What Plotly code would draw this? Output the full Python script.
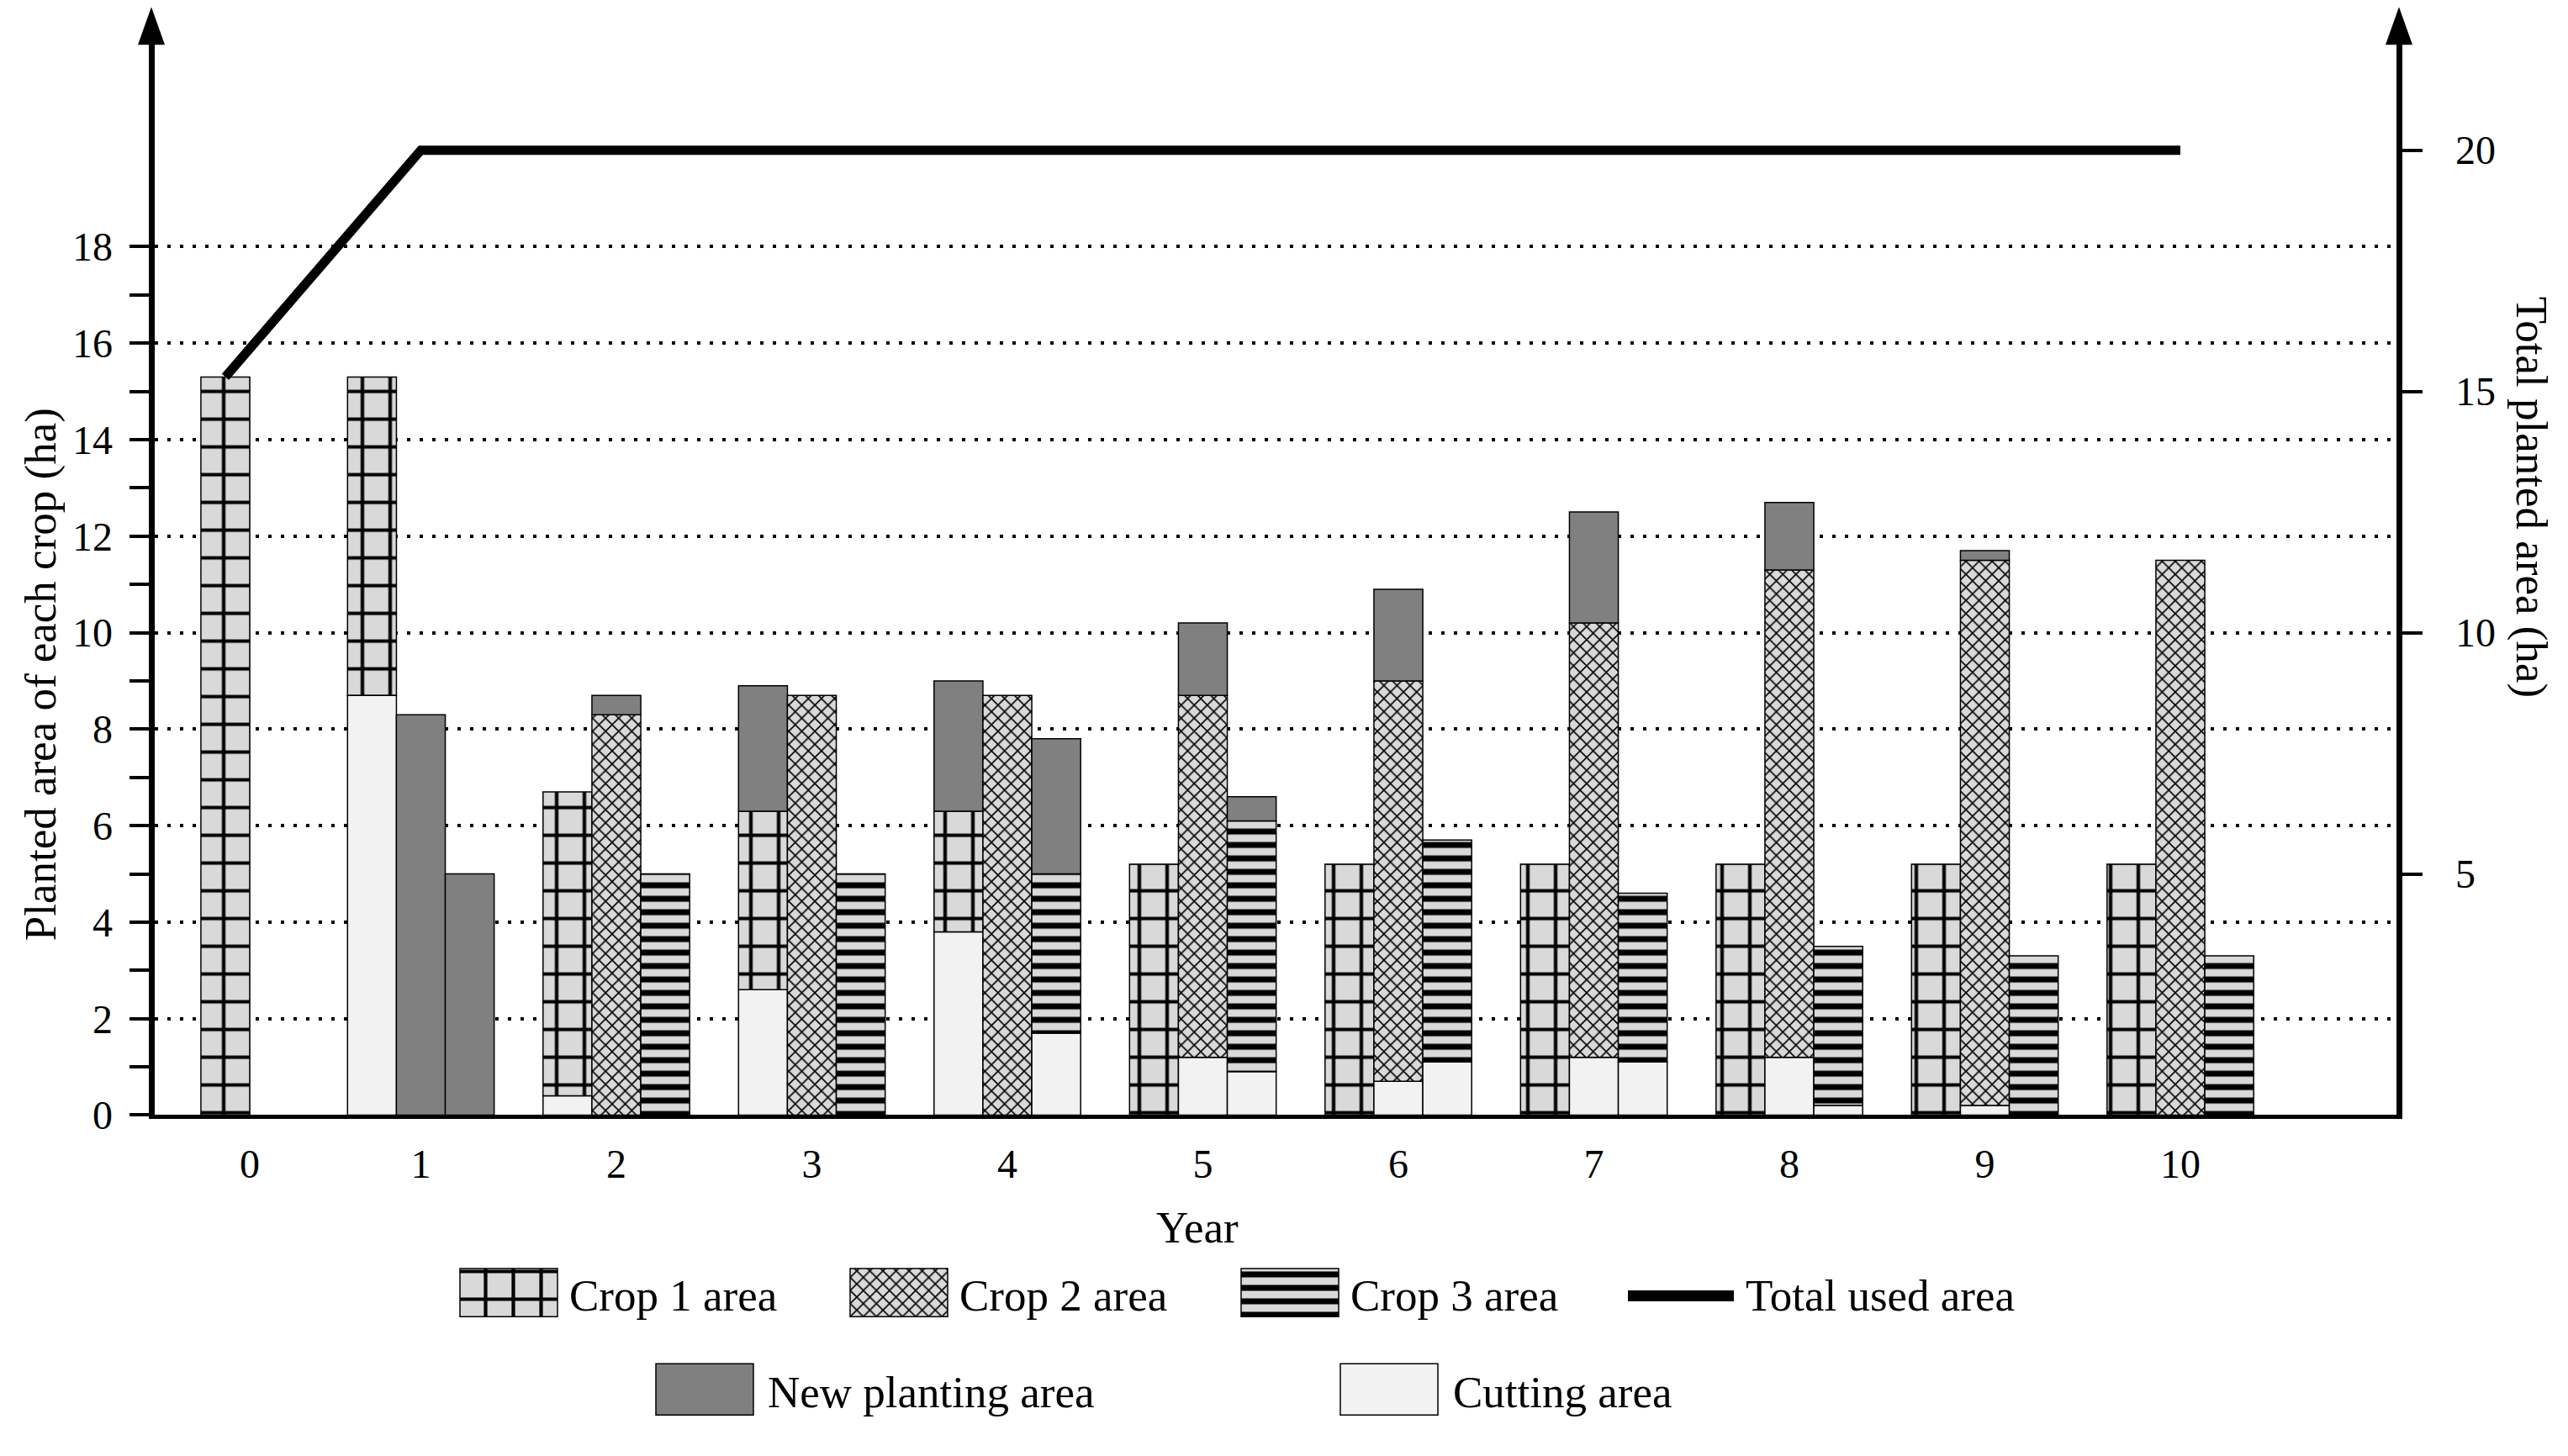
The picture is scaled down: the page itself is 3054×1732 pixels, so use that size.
import plotly.graph_objects as go

# ---------------- data ----------------
years = [0, 1, 2, 3, 4, 5, 6, 7, 8, 9, 10]
year_labels = [str(y) for y in years]

# slot 1 : crop 1 bars (segments stacked bottom -> top: cutting, crop area, new planting)
cut_1 = [0, 8.7, 0.4, 2.6, 3.8, 0, 0, 0, 0, 0, 0]
crop_1 = [15.3, 6.6, 6.3, 3.7, 2.5, 5.2, 5.2, 5.2, 5.2, 5.2, 5.2]
new_1 = [0, 0, 0, 2.6, 2.7, 0, 0, 0, 0, 0, 0]
# slot 2 : crop 2 bars
cut_2 = [0, 0, 0, 0, 0, 1.2, 0.7, 1.2, 1.2, 0.2, 0]
crop_2 = [0, 0, 8.3, 8.7, 8.7, 7.5, 8.3, 9.0, 10.1, 11.3, 11.5]
new_2 = [0, 8.3, 0.4, 0, 0, 1.5, 1.9, 2.3, 1.4, 0.2, 0]
# slot 3 : crop 3 bars
cut_3 = [0, 0, 0, 0, 1.7, 0.9, 1.1, 1.1, 0.2, 0, 0]
crop_3 = [0, 0, 5.0, 5.0, 3.3, 5.2, 4.6, 3.5, 3.3, 3.3, 3.3]
new_3 = [0, 5.0, 0, 0, 2.8, 0.5, 0, 0, 0, 0, 0]

total_used_area = [15.3, 20, 20, 20, 20, 20, 20, 20, 20, 20, 20]

left_tick_vals = [0, 2, 4, 6, 8, 10, 12, 14, 16, 18]
left_minor_vals = [1, 3, 5, 7, 9, 11, 13, 15, 17]
right_tick_vals = [5, 10, 15, 20]

y_title_left = "Planted area of each crop (ha)"
y_title_right = "Total planted area (ha)"
x_title = "Year"

# ---------------- geometry / style (pixels) ----------------
W, H = 3054, 1732
AX_L, AX_R, AX_B, AX_T = 180, 2853, 1350, 54
LW_Y, LW_X = 7, 5
YEAR_PX = 232.5      # pixels per year
YEAR0_PX = 268       # pixel x of year 0
UNIT_PX = 58.3       # pixels per hectare
BAR_W = 0.25
FONT = "Liberation Serif"
TEXT_SIZE = 53
TICK_SIZE = 48

dom_l = AX_L + LW_Y / 2
dom_r = AX_R - LW_Y / 2
dom_b = AX_B - LW_X / 2
dom_t = AX_T
x_range = [(dom_l - YEAR0_PX) / YEAR_PX, (dom_r - YEAR0_PX) / YEAR_PX]
y_range = [0, (dom_b - dom_t) / UNIT_PX]

GRAY_BG = "#d9d9d9"
STYLES = {
    "crop1": dict(color=GRAY_BG, pattern=dict(shape="+", size=33, solidity=0.24,
                                               fgcolor="black", bgcolor=GRAY_BG, fillmode="replace")),
    "crop2": dict(color=GRAY_BG, pattern=dict(shape="x", size=11, solidity=0.27,
                                               fgcolor="black", bgcolor=GRAY_BG, fillmode="replace")),
    "crop3": dict(color=GRAY_BG, pattern=dict(shape="-", size=16, solidity=0.44,
                                               fgcolor="black", bgcolor=GRAY_BG, fillmode="replace")),
    "new": dict(color="#808080"),
    "cut": dict(color="#f2f2f2"),
}
OUTLINE = dict(color="black", width=1.5)

slots = [
    dict(cut=cut_1, crop=crop_1, new=new_1, style="crop1"),
    dict(cut=cut_2, crop=crop_2, new=new_2, style="crop2"),
    dict(cut=cut_3, crop=crop_3, new=new_3, style="crop3"),
]
slot_offsets = [-BAR_W, 0, BAR_W]

# number of occupied slots per year (a lone bar is centred on its year)
n_occ = []
for i in range(len(years)):
    n_occ.append(sum(1 for s in slots if s["cut"][i] + s["crop"][i] + s["new"][i] > 0))

fig = go.Figure()

for k, s in enumerate(slots):
    xs = [yr + (0 if n_occ[i] == 1 else slot_offsets[k]) for i, yr in enumerate(years)]
    base = [0.0] * len(years)
    for seg in ("cut", "crop", "new"):
        vals = s[seg]
        st = STYLES[s["style"]] if seg == "crop" else STYLES[seg]
        fig.add_trace(go.Bar(
            x=xs, y=[v if v > 0 else None for v in vals], base=list(base), width=BAR_W,
            marker=dict(**st, line=OUTLINE), xaxis="x", yaxis="y",
            showlegend=False, hoverinfo="skip"))
        base = [b + v for b, v in zip(base, vals)]

fig.add_trace(go.Scatter(
    x=years, y=total_used_area, mode="lines", line=dict(color="black", width=11),
    xaxis="x", yaxis="y2", showlegend=False, hoverinfo="skip"))

# ---------------- custom legend (auxiliary pixel axis below the plot) ----------------
LEG_DOM_TOP = 0.2
legend_items = [
    # label, style, swatch left px, swatch top px, swatch height px, text gap
    ("Crop 1 area", "crop1", 547, 1533, 58, 12),
    ("Crop 2 area", "crop2", 1011, 1533, 58, 12),
    ("Crop 3 area", "crop3", 1476, 1533, 58, 12),
    ("Total used area", "line", 1936, 1533, 58, 12),
    ("New planting area", "new", 780, 1648, 62, 15),
    ("Cutting area", "cut", 1594, 1648, 62, 16),
]
SW_W = 116
annotations = []
for label, st, left, top, hgt, gap in legend_items:
    if st == "line":
        yc = H - (top + hgt / 2 + 4)
        fig.add_trace(go.Scatter(x=[left, left + SW_W + 10], y=[yc, yc], mode="lines",
                                 line=dict(color="black", width=13), xaxis="x2", yaxis="y5",
                                 showlegend=False, hoverinfo="skip"))
        tx = left + SW_W + 10 + gap
    else:
        fig.add_trace(go.Bar(x=[left + SW_W / 2], y=[hgt], base=[H - top - hgt], width=[SW_W],
                             marker=dict(**STYLES[st], line=OUTLINE), xaxis="x2", yaxis="y5",
                             showlegend=False, hoverinfo="skip"))
        tx = left + SW_W + gap
    annotations.append(dict(text=label, x=tx / W, y=(H - (top + hgt / 2 + 3)) / H,
                            xref="paper", yref="paper", xanchor="left", yanchor="middle",
                            showarrow=False, font=dict(family=FONT, size=TEXT_SIZE, color="black")))

# axis titles
annotations += [
    dict(text=y_title_left, x=48 / W, y=(H - 815) / H, xref="paper", yref="paper",
         textangle=-90, showarrow=False, xanchor="center", yanchor="middle",
         font=dict(family=FONT, size=TEXT_SIZE, color="black")),
    dict(text=y_title_right, x=3010 / W, y=(H - 600) / H, xref="paper", yref="paper",
         textangle=90, showarrow=False, xanchor="center", yanchor="middle",
         font=dict(family=FONT, size=TEXT_SIZE, color="black")),
    dict(text=x_title, x=1424 / W, y=(H - 1483) / H, xref="paper", yref="paper",
         showarrow=False, xanchor="center", yanchor="middle",
         font=dict(family=FONT, size=TEXT_SIZE, color="black")),
]

# arrow heads on top of both vertical axes
shapes = []
for ax_px in (AX_L, AX_R):
    shapes.append(dict(type="path", xref="paper", yref="paper",
                       xsizemode="pixel", ysizemode="pixel",
                       xanchor=ax_px / W, yanchor=(H - AX_T) / H,
                       path="M-16,0 L16,0 L0,45 Z", fillcolor="black",
                       line=dict(width=0), layer="above"))

# year tick positions (the year-0 label sits at the right edge of its lone bar)
x_tick_pos = [yr + (BAR_W / 2 if n_occ[i] == 1 else 0) for i, yr in enumerate(years)]

tickfont = dict(family=FONT, size=TICK_SIZE, color="black")
fig.update_layout(
    width=W, height=H,
    margin=dict(l=0, r=0, t=0, b=0),
    paper_bgcolor="white", plot_bgcolor="white",
    barmode="overlay",
    showlegend=False,
    annotations=annotations,
    shapes=shapes,
    xaxis=dict(domain=[dom_l / W, dom_r / W], range=x_range, anchor="y",
               tickmode="array", tickvals=x_tick_pos, ticktext=year_labels,
               ticks="", showline=True, linewidth=LW_X, linecolor="black",
               showgrid=False, zeroline=False, tickfont=tickfont,
               ticklabelstandoff=12, fixedrange=True),
    yaxis=dict(domain=[(H - dom_b) / H, (H - dom_t) / H], range=y_range, anchor="x",
               tickmode="array", tickvals=left_tick_vals,
               ticks="outside", ticklen=23, tickwidth=4, tickcolor="black",
               minor=dict(tickmode="array", tickvals=left_minor_vals, ticks="outside",
                          ticklen=23, tickwidth=4, tickcolor="black", showgrid=False),
               showline=True, linewidth=LW_Y, linecolor="black",
               showgrid=True, gridcolor="black", gridwidth=3.5, griddash="4px,11px",
               zeroline=False, tickfont=tickfont, ticklabelstandoff=10, fixedrange=True),
    yaxis2=dict(overlaying="y", side="right", anchor="x", range=y_range,
                tickmode="array", tickvals=right_tick_vals,
                ticks="outside", ticklen=24, tickwidth=4, tickcolor="black",
                showline=True, linewidth=LW_Y, linecolor="black",
                showgrid=False, zeroline=False, tickfont=tickfont,
                ticklabelstandoff=30, fixedrange=True),
    yaxis3=dict(overlaying="y", side="left", anchor="x", range=y_range,
                tickmode="array", tickvals=list(range(1, 19)),
                ticks="inside", ticklen=27, tickwidth=4, tickcolor="black",
                showticklabels=False, showline=False, showgrid=False, zeroline=False,
                fixedrange=True),
    yaxis4=dict(overlaying="y", side="right", anchor="x", range=y_range,
                tickmode="array", tickvals=right_tick_vals,
                ticks="inside", ticklen=24, tickwidth=4, tickcolor="black",
                showticklabels=False, showline=False, showgrid=False, zeroline=False,
                fixedrange=True),
    xaxis2=dict(domain=[0, 1], range=[0, W], anchor="y5", visible=False, fixedrange=True),
    yaxis5=dict(domain=[0, LEG_DOM_TOP], range=[0, LEG_DOM_TOP * H], anchor="x2",
                visible=False, fixedrange=True),
)

page_css = (
    "var s=document.createElement('style');"
    "s.textContent='html,body{margin:0;padding:0;overflow:hidden;}';"
    "document.head.appendChild(s);"
)
fig.write_html("out.html", config={"displayModeBar": False}, post_script=page_css)
